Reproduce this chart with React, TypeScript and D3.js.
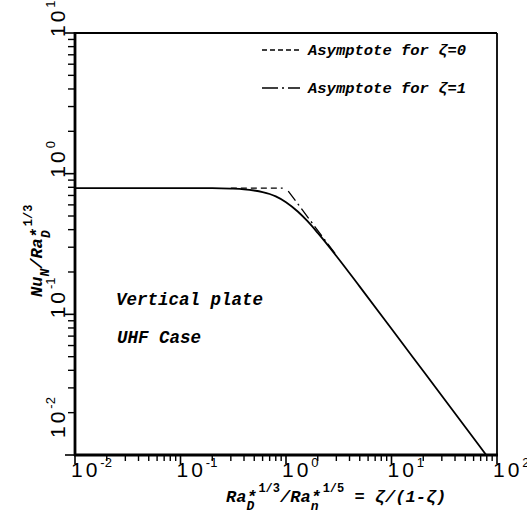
import React from "react";
import * as d3 from "d3";

// Curve values
const curveX = [0.01, 0.1, 0.2, 0.3, 0.4, 0.5, 0.6, 0.7, 0.8, 1.0, 1.3, 1.6, 2, 3, 5, 10, 20, 50, 79];
const curveY = [0.79, 0.79, 0.789, 0.783, 0.774, 0.759, 0.74, 0.717, 0.69, 0.627, 0.536, 0.459, 0.379, 0.26, 0.1575, 0.079, 0.0395, 0.0158, 0.01];

// Asymptote for zeta = 0 (dashed)
const asym0X = [0.3, 0.93];
const asym0Y = [0.79, 0.79];
// Asymptote for zeta = 1 (dash-dot)
const asym1X = [1.05, 3];
const asym1Y = [0.752, 0.263];

const xDecades = [0.01, 0.1, 1, 10, 100];
const xDecadeExp = ["-2", "-1", "0", "1", "2"];
const yDecades = [10, 1, 0.1, 0.01];
const yDecadeExp = ["1", "0", "-1", "-2"];

const legendLabels = ["Asymptote for \u03b6=0", "Asymptote for \u03b6=1"];
const noteLabels = ["Vertical plate", "UHF Case"];

const W = 527, H = 514;
const L = 75, R = 497, T = 33, B = 455;

export default function App() {
  const x = d3.scaleLog().domain([0.01, 100]).range([L, R]);
  const y = d3.scaleLog().domain([0.01, 10]).range([B, T]);

  const minorX: number[] = [];
  for (let e = -2; e < 2; e++) for (let k = 2; k <= 9; k++) minorX.push(k * Math.pow(10, e));
  const minorY: number[] = [];
  for (let e = -2; e < 1; e++) for (let k = 2; k <= 9; k++) minorY.push(k * Math.pow(10, e));

  const line = d3
    .line<[number, number]>()
    .x((d) => x(d[0]))
    .y((d) => y(d[1]))
    .curve(d3.curveMonotoneX);

  const curvePts = curveX.map((v, i) => [v, curveY[i]] as [number, number]);
  const a0 = asym0X.map((v, i) => [v, asym0Y[i]] as [number, number]);
  const a1 = asym1X.map((v, i) => [v, asym1Y[i]] as [number, number]);

  const tickFont = "'Liberation Sans', Arial, sans-serif";
  const monoFont = "'Liberation Mono', 'Courier New', monospace";

  return (
    <svg width={W} height={H} style={{ position: "absolute", left: 0, top: 0, background: "#fff" }}>
      <defs>
        <clipPath id="plot">
          <rect x={L} y={T} width={R - L} height={B - T} />
        </clipPath>
      </defs>
      {/* frame */}
      <line x1={L} x2={R} y1={T} y2={T} stroke="#000" strokeWidth={2.2} />
      <line x1={R} x2={R} y1={T} y2={B} stroke="#000" strokeWidth={1.8} />
      <line x1={L} x2={L} y1={T - 1} y2={B + 1} stroke="#000" strokeWidth={2.8} />
      <line x1={L - 1} x2={R + 1} y1={B} y2={B} stroke="#000" strokeWidth={2.8} />

      {/* x minor ticks */}
      {minorX.map((v, i) => (
        <line key={"xm" + i} x1={x(v)} x2={x(v)} y1={B} y2={B + 6} stroke="#000" strokeWidth={1.4} />
      ))}
      {xDecades.map((v, i) => (
        <line key={"xM" + i} x1={x(v)} x2={x(v)} y1={B} y2={B + 9} stroke="#000" strokeWidth={1.6} />
      ))}
      {/* y minor ticks */}
      {minorY.map((v, i) => (
        <line key={"ym" + i} x1={L - 7} x2={L} y1={y(v)} y2={y(v)} stroke="#000" strokeWidth={1.4} />
      ))}
      {yDecades.map((v, i) => (
        <line key={"yM" + i} x1={L - 10} x2={L} y1={y(v)} y2={y(v)} stroke="#000" strokeWidth={1.6} />
      ))}

      {/* x tick labels */}
      {xDecades.map((v, i) => (
        <text key={"xl" + i} x={x(v) - 4} y={477} fontFamily={tickFont} fontSize={21} letterSpacing={3} fill="#000">
          10
          <tspan fontSize={13} dy={-10} letterSpacing={0}>{xDecadeExp[i]}</tspan>
        </text>
      ))}
      {/* y tick labels */}
      {yDecades.map((v, i) => {
        const yy = i === 3 ? y(v) - 17 : y(v) + 4;
        return (
          <text
            key={"yl" + i}
            transform={`translate(65, ${yy}) rotate(-90)`}
            fontFamily={tickFont}
            fontSize={21}
            letterSpacing={3}
            fill="#000"
          >
            10
            <tspan fontSize={13} dy={-10} letterSpacing={0}>{yDecadeExp[i]}</tspan>
          </text>
        );
      })}

      {/* curves */}
      <g clipPath="url(#plot)">
        <path d={line(curvePts) || ""} fill="none" stroke="#000" strokeWidth={1.8} />
        <path d={line(a0) || ""} fill="none" stroke="#000" strokeWidth={1.3} strokeDasharray="6,4" />
        <path d={line(a1) || ""} fill="none" stroke="#000" strokeWidth={1.3} strokeDasharray="12,4,2,4" />
      </g>

      {/* legend */}
      <line x1={262} x2={300} y1={50} y2={50} stroke="#000" strokeWidth={1.3} strokeDasharray="5,3" />
      <text x={308} y={55} fontFamily={monoFont} fontWeight="bold" fontStyle="italic" fontSize={15.5} fill="#000">
        {legendLabels[0]}
      </text>
      <line x1={262} x2={300} y1={88} y2={88} stroke="#000" strokeWidth={1.3} strokeDasharray="16,4,2,4" />
      <text x={308} y={93} fontFamily={monoFont} fontWeight="bold" fontStyle="italic" fontSize={15.5} fill="#000">
        {legendLabels[1]}
      </text>

      {/* notes */}
      <text x={116} y={305} fontFamily={monoFont} fontWeight="bold" fontStyle="italic" fontSize={17.5} fill="#000">
        {noteLabels[0]}
      </text>
      <text x={117} y={343} fontFamily={monoFont} fontWeight="bold" fontStyle="italic" fontSize={17.5} fill="#000">
        {noteLabels[1]}
      </text>

      {/* x axis title */}
      <text x={226} y={502} fontFamily={monoFont} fontWeight="bold" fontStyle="italic" fontSize={17} fill="#000">
        Ra*
        <tspan dx={-10} dy={8} fontSize={13}>D</tspan>
        <tspan dx={4} dy={-18} fontSize={12} fontStyle="normal">1/3</tspan>
        <tspan dy={10}>/Ra*</tspan>
        <tspan dx={-10} dy={8} fontSize={13}>n</tspan>
        <tspan dx={4} dy={-18} fontSize={12} fontStyle="normal">1/5</tspan>
        <tspan dy={10}>{" = \u03b6/(1-\u03b6)"}</tspan>
      </text>

      {/* y axis title */}
      <text transform={`translate(42, 297) rotate(-90)`} fontFamily={monoFont} fontWeight="bold" fontStyle="italic" fontSize={17} fill="#000">
        Nu
        <tspan dy={7} fontSize={13}>N</tspan>
        <tspan dy={-7}>/Ra*</tspan>
        <tspan dx={-10} dy={8} fontSize={13}>D</tspan>
        <tspan dx={4} dy={-18} fontSize={12} fontStyle="normal">1/3</tspan>
      </text>
    </svg>
  );
}
